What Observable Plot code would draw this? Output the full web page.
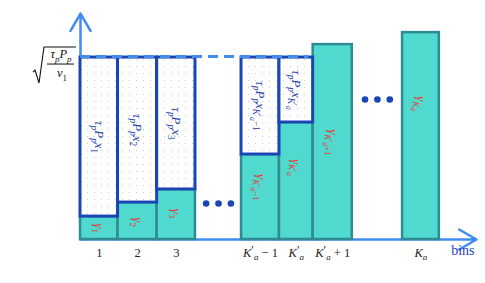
<!DOCTYPE html>
<html>
<head>
<meta charset="utf-8">
<script src="https://cdn.jsdelivr.net/npm/d3@7"></script>
<script src="https://cdn.jsdelivr.net/npm/@observablehq/plot@0.6"></script>
<style>
  html, body { margin: 0; padding: 0; background: #fff; }
  svg { display: block; }
</style>
</head>
<body>
<script>
// ---- data ----
const bins      = ["1", "2", "3", "K^′_a − 1", "K^′_a", "K^′_a + 1", "K_a"];
const binStart  = [0, 0.97, 1.98, 4.16, 5.14, 6.01, 8.32];
const binEnd    = [0.97, 1.98, 2.97, 5.14, 6.01, 7.02, 9.27];
const gamma     = [0.126, 0.203, 0.275, 0.467, 0.643, 1.071, 1.137];
const gammaText = ["γ_1", "γ_2", "γ_3", "γ_{K^′_a−1}", "γ_{K^′_a}", "γ_{K^′_a+1}", "γ_{K_a}"];
const gammaLabelAt = [0.062, 0.095, 0.143, 0.286, 0.396, 0.533, 0.747];
const boxText   = ["τ_pP_px_1", "τ_pP_px_2", "τ_pP_px_3", "τ_pP_px_{K^′_a−1}", "τ_pP_px_{K^′_a}"];
const threshold = 1;            // sqrt(τp Pp / ν1) level
const xEnd = 10.23, yEnd = 1.242;
const ellipsisAfter = [2, 5];   // gaps after these bins
const ellipsisLevel = [0.198, 0.769];

// ---- derived tables ----
const bars = bins.map((b, i) => ({
  bin: b, x1: binStart[i], x2: binEnd[i], xc: (binStart[i] + binEnd[i]) / 2,
  g: gamma[i], gt: gammaText[i], gy: gammaLabelAt[i]
}));
const boxes = boxText.map((t, i) => ({...bars[i], label: t, ym: (bars[i].g + threshold) / 2}));
const dots = [];
ellipsisAfter.forEach((k, j) => {
  const mid = (binEnd[k] + binStart[k + 1]) / 2;
  [-1, 0, 1].forEach(s => dots.push({x: mid + s * 0.32, y: ellipsisLevel[j]}));
});

const AXIS = "#418CF0", TEAL = "#50D9CE", TEALS = "#2D8C93", BLUE = "#1B45B5";
const SERIF = "'Liberation Serif', 'DejaVu Serif', serif";

const plot = Plot.plot({
  width: 485, height: 283,
  marginLeft: 80, marginRight: 9, marginTop: 13, marginBottom: 44,
  x: {domain: [0, xEnd], axis: null},
  y: {domain: [0, yEnd], axis: null},
  style: {background: "white", overflow: "visible", fontFamily: SERIF},
  marks: [
    Plot.arrow([0], {x1: 0, x2: xEnd, y1: 0, y2: 0, stroke: AXIS, strokeWidth: 2.5, headLength: 12}),
    Plot.arrow([0], {x1: 0, x2: 0, y1: 0, y2: yEnd, stroke: AXIS, strokeWidth: 2.5, headLength: 12}),
    Plot.rect(bars, {x1: "x1", x2: "x2", y1: 0, y2: "g", fill: TEAL, stroke: TEALS, strokeWidth: 2.5}),
    Plot.rect(boxes, {x1: "x1", x2: "x2", y1: "g", y2: threshold, fill: "url(#dotpat)", stroke: BLUE, strokeWidth: 3}),
    Plot.ruleY([threshold], {x1: 0, x2: 5.9, dy: -1, stroke: AXIS, strokeWidth: 3, strokeDasharray: "10,6"}),
    Plot.text(boxes, {x: "xc", y: "ym", text: "label", rotate: 90, fill: "#2341A8", fontSize: 13, className: "math"}),
    Plot.text(bars, {x: "xc", y: "gy", text: "gt", rotate: 90, fill: "#EA3330", fontSize: 12.5, className: "math"}),
    Plot.text(bars, {x: "xc", y: 0, text: "bin", dy: 13, fill: "#222", fontSize: 12.5, className: "math"}),
    Plot.text(["bins"], {frameAnchor: "bottom-right", textAnchor: "end", dx: -2, dy: 15, fill: "#2C3FBF", fontSize: 14}),
    Plot.dot(dots, {x: "x", y: "y", r: 3.3, fill: BLUE, stroke: "none"})
  ]
});

// dotted pattern for the blue boxes
const svgns = "http://www.w3.org/2000/svg";
const defs = d3.select(plot).insert("defs", ":first-child");
const pat = defs.append("pattern").attr("id", "dotpat").attr("patternUnits", "userSpaceOnUse")
  .attr("width", 7).attr("height", 7);
pat.append("rect").attr("width", 7).attr("height", 7).attr("fill", "white");
pat.append("circle").attr("cx", 3.5).attr("cy", 3.5).attr("r", 0.6).attr("fill", "#c4c4c4");

// ---- tiny math markup: _x / _{...} subscripts, ^x superscripts, letters italic ----
function parse(str) {
  const segs = []; let i = 0;
  (function run(level) {
    while (i < str.length) {
      const c = str[i];
      if (c === "}") { i++; return; }
      if (c === "_" || c === "^") {
        i++;
        const lv = c === "_" ? level + 1 : level - 0.5;
        if (str[i] === "{") { i++; run(lv); }
        else { segs.push({t: str[i], level: lv}); i++; }
      } else { segs.push({t: c, level}); i++; }
    }
  })(0);
  const out = [];
  for (const s of segs) {
    s.it = /[A-Za-zα-ωΑ-Ω]/.test(s.t);
    const last = out[out.length - 1];
    if (last && last.level === s.level && last.it === s.it) last.t += s.t;
    else out.push({...s});
  }
  return out;
}
function mathify(textNode, base) {
  const segs = parse(textNode.textContent);
  textNode.textContent = "";
  let cur = 0;
  const offOf = l => l <= 0 ? (l < 0 ? -0.2 * base : 0) : l < 1.5 ? 0.28 * base : 0.46 * base;
  const sizeOf = l => l === 0 ? base : l < 0 ? base * 0.95 : l <= 1 ? base * 0.72 : base * 0.6;
  segs.forEach(seg => {
    let off = offOf(seg.level), size = sizeOf(seg.level);
    if (seg.level === 0.5) { off = 0.28 * base - 0.18 * base; size = base * 0.7; }
    const ts = document.createElementNS(svgns, "tspan");
    if (off !== cur) ts.setAttribute("dy", (off - cur).toFixed(2));
    cur = off;
    ts.setAttribute("font-size", size.toFixed(2));
    ts.setAttribute("font-style", seg.it ? "italic" : "normal");
    ts.textContent = seg.t;
    textNode.appendChild(ts);
  });
}
d3.select(plot).selectAll("g.math").each(function () {
  const base = parseFloat(this.getAttribute("font-size")) || 12;
  d3.select(this).selectAll("text").each(function () { mathify(this, base); });
});

// ---- y-level label: sqrt(τp Pp / ν1), anchored through the scales ----
const X = plot.scale("x"), Y = plot.scale("y");
const ax = X.apply(0), ay = Y.apply(threshold);
const lab = d3.select(plot).append("g").attr("font-family", SERIF).attr("fill", "#111");
lab.append("path")
  .attr("d", `M${ax - 47},${ay + 15} L${ax - 45},${ay + 13} L${ax - 41},${ay + 26} L${ax - 36},${ay - 10} L${ax - 4},${ay - 10}`)
  .attr("fill", "none").attr("stroke", "#111").attr("stroke-width", 1.1);
lab.append("line").attr("x1", ax - 33).attr("x2", ax - 6).attr("y1", ay + 7).attr("y2", ay + 7)
  .attr("stroke", "#111").attr("stroke-width", 1);
const num = lab.append("text").attr("x", ax - 19).attr("y", ay + 1).attr("text-anchor", "middle").text("τ_pP_p");
mathify(num.node(), 12.5);
const den = lab.append("text").attr("x", ax - 18).attr("y", ay + 20).attr("text-anchor", "middle").text("ν_1");
mathify(den.node(), 12.5);

document.body.appendChild(plot);
</script>
</body>
</html>
